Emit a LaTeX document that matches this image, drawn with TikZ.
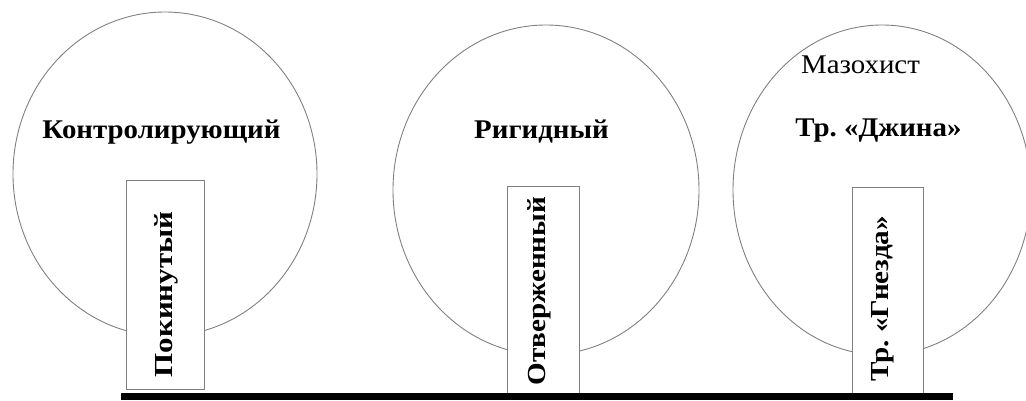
\documentclass[tikz,border=0pt]{standalone}
\usepackage{fontspec}
\usepackage{graphicx}
\setmainfont{Liberation Serif}[BoldFont={Liberation Serif Bold}]
\usetikzlibrary{shapes.geometric}
\frenchspacing
\newcommand{\hs}[1]{\scalebox{1.07}[1]{#1}}
\newcommand{\vs}[2][1.12]{\scalebox{#1}[1]{#2}}
\begin{document}
\begin{tikzpicture}[x=1pt,y=-1pt,
  head/.style={ellipse, draw=black!50, line width=0.9pt, inner sep=0pt},
  post/.style={rectangle, draw=black!50, fill=white, line width=0.9pt, inner sep=0pt},
  bold/.style={font=\fontsize{27}{30}\selectfont\bfseries, inner sep=0pt, anchor=base},
  plain/.style={font=\fontsize{27}{30}\selectfont, inner sep=0pt, anchor=base},
  vert/.style={font=\fontsize{26}{30}\selectfont\bfseries, inner sep=0pt, rotate=90, anchor=base}]
\useasboundingbox (0,0) rectangle (1026,400);
\begin{scope}
\clip (0,0) rectangle (1026,400);
\node[head, minimum width=304pt, minimum height=324pt] (c1) at (165,174) {};
\node[head, minimum width=306pt, minimum height=330pt] (c2) at (546,190) {};
\node[head, minimum width=298pt, minimum height=330pt] (c3) at (882,190) {};
\end{scope}
\node[post, minimum width=78pt, minimum height=209pt] (r1) at (165,284.5) {};
\node[post, minimum width=72pt, minimum height=209pt] (r2) at (543,290.5) {};
\node[post, minimum width=71pt, minimum height=207pt] (r3) at (887.5,290.5) {};
\fill[black] (121,393) rectangle (953,400);
\node[bold] (t1) at (161.5,138) {\hs{Контролирующий}};
\node[bold] (t2) at (541.5,138) {\hs{Ригидный}};
\node[plain] (t3) at (860.5,73) {\hs{Мазохист}};
\node[bold] (t4) at (878.5,136) {\hs{Тр. «Джина»}};
\node[vert] (v1) at (172,294.5) {\vs[1.19]{Покинутый}};
\node[vert] (v2) at (545,291) {\vs{Отверженный}};
\node[vert] (v3) at (888,299) {\vs{Тр. «Гнезда»}};
\end{tikzpicture}
\end{document}
